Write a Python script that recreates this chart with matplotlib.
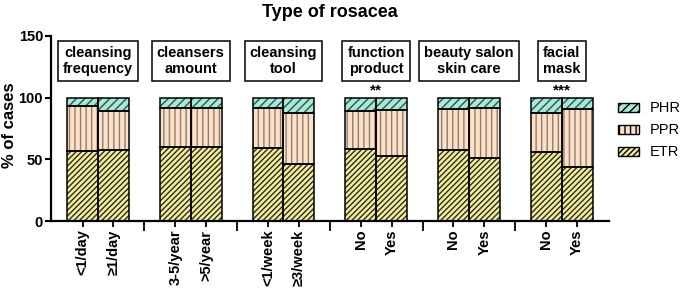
import numpy as np
import matplotlib
matplotlib.use("Agg")
from matplotlib import pyplot as plt
from matplotlib.patches import Rectangle

plt.rcParams['font.family'] = ['Liberation Sans', 'DejaVu Sans']
plt.rcParams['hatch.linewidth'] = 1.0

# data (% of cases)
groups = ["cleansing\nfrequency", "cleansers\namount", "cleansing\ntool",
          "function\nproduct", "beauty salon\nskin care", "facial\nmask"]
bar_labels = ["<1/day", "\u22651/day", "3-5/year", ">5/year", "<1/week", "\u22653/week",
              "No", "Yes", "No", "Yes", "No", "Yes"]
etr = [56.5, 58, 60, 60, 59, 46.5, 58.5, 52.5, 57.5, 51.5, 56, 44]
ppr = [37, 31.5, 32, 31.5, 32.5, 41.5, 31, 37.5, 33, 40.5, 32, 47]
phr = [6.5, 10.5, 8, 8.5, 8.5, 12, 10.5, 10, 9.5, 8, 12, 9]
stars = {3: "**", 5: "***"}

# bar positions: pairs with a one-bar gap between groups
x = np.array([3 * (i // 2) + (i % 2) for i in range(len(etr))], dtype=float)
etr = np.array(etr); ppr = np.array(ppr); phr = np.array(phr)

fig, ax = plt.subplots(figsize=(6.85, 2.88), dpi=100)
fig.subplots_adjust(left=0.074, right=0.889, top=0.875, bottom=0.232)

layers = [
    ("ETR", etr, np.zeros_like(etr), "#f3ee9a", "#2a2a20", "//////"),
    ("PPR", ppr, etr, "#fde1c6", "#8e7e70", "|||"),
    ("PHR", phr, etr + ppr, "#a9e8d6", "#24564c", "////"),
]
for name, vals, bottom, fc, hc, hatch in layers:
    ax.bar(x, vals, bottom=bottom, width=1.0, color=fc, edgecolor=hc,
           hatch=hatch, linewidth=0, zorder=2)
    ax.bar(x, vals, bottom=bottom, width=1.0, fill=False, edgecolor="black",
           linewidth=1.1, zorder=3)

proxies = []
for name, vals, bottom, fc, hc, hatch in layers:
    proxies.append(Rectangle((0, 0), 1, 1, facecolor=fc, edgecolor="black",
                             hatch=hatch, linewidth=1.0))
ax.legend(proxies[::-1], ["PHR", "PPR", "ETR"], loc="center left",
          bbox_to_anchor=(1.005, 0.49), frameon=False, fontsize=10.5,
          handlelength=1.45, handleheight=0.6, labelspacing=0.55,
          handletextpad=0.75, borderaxespad=0)

# group label boxes
for g, label in enumerate(groups):
    ax.text(3 * g + 0.5, 130, label, ha="center", va="center", fontsize=10.5,
            fontweight="bold", linespacing=1.15,
            bbox=dict(boxstyle="square,pad=0.35", facecolor="white",
                      edgecolor="black", linewidth=1.1), zorder=5)

for g, s in stars.items():
    ax.text(3 * g + 0.5, 100.5, s, ha="center", va="bottom", fontsize=11,
            fontweight="bold")

ax.set_xlim(-1.03, 17.03)
ax.set_ylim(0, 150)
ax.set_yticks([0, 50, 100, 150])
ax.set_xticks(x)
ax.set_xticklabels(bar_labels, rotation=90, fontsize=10.5, fontweight="bold")
ax.set_xticks([2, 5, 8, 11, 14], minor=True)
ax.tick_params(axis="x", which="major", length=4, width=1.3, pad=2)
ax.tick_params(axis="x", which="minor", length=7, width=1.3)
ax.tick_params(axis="y", length=4, width=1.5, labelsize=10.5, pad=1.5)
for lab in ax.get_yticklabels():
    lab.set_fontweight("bold")
ax.set_ylabel("% of cases", fontsize=12, fontweight="bold")
ax.yaxis.set_label_coords(-0.061, 0.52)
ax.set_title("Type of rosacea", fontsize=13, fontweight="bold", pad=14)

for side in ["top", "right"]:
    ax.spines[side].set_visible(False)
for side in ["left", "bottom"]:
    ax.spines[side].set_linewidth(1.6)

fig.savefig("out.png", dpi=100)
